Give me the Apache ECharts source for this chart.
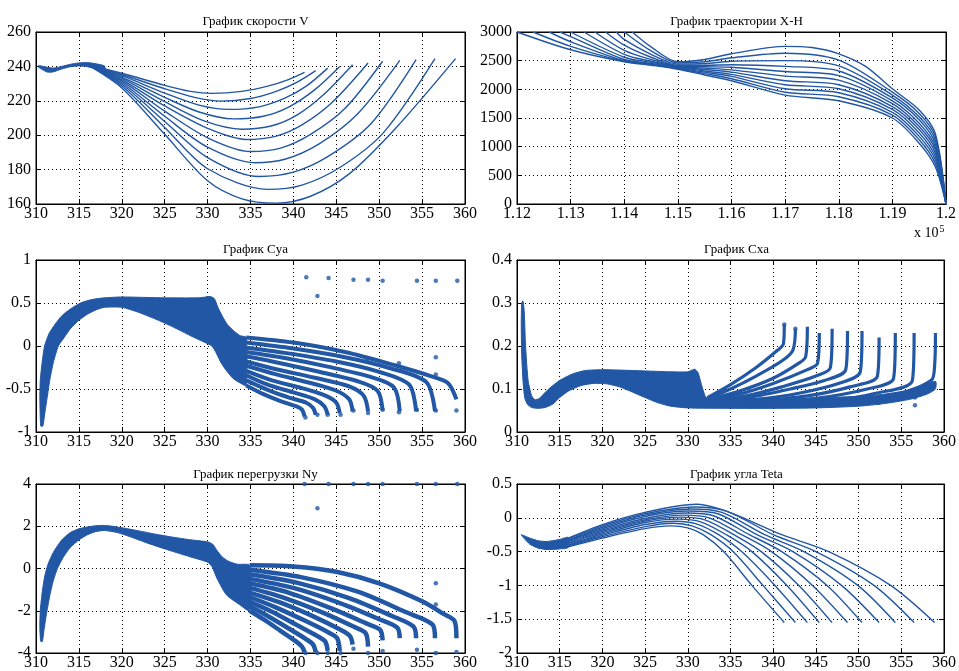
<!DOCTYPE html>
<html><head><meta charset="utf-8">
<script src="https://cdn.jsdelivr.net/npm/echarts@6/dist/echarts.min.js"></script>
<style>html,body{margin:0;padding:0;background:#fff}#c{width:959px;height:671px}</style>
</head><body><div id="c"></div>
<script>
// ---------- titles ----------
const titles = ['График скорости V','График траектории X-H','График Cya','График Cxa','График перегрузки Ny','График угла Teta'];
// ---------- axis ranges [min,max,interval] ----------
const xRanges = [[310,360,5],[112000,120000,1000],[310,360,5],[310,360,5],[310,360,5],[310,360,5]];
const yRanges = [[160,260,20],[0,3000,500],[-1,1,0.5],[0,0.4,0.1],[-4,4,2],[-2,0.5,0.5]];

// ---------- V ----------
const vBand = [[310.3,240.5],[311,239.8],[312,239],[313,240],[314,241.2],[315,242],[316,242.2],[317,241.5],[318,240.2],
  [318,236.5],[317,238.5],[316,239.8],[315,240.3],[314,239.8],[313,238.5],[312,236.8],[311.3,236.7],[310.8,238],[310.3,239.5]];
const vCurves = [
 [[316,241],[320,236],[325,229],[328,225.5],[330.5,224.3],[334,225.5],[337,228.5],[339.5,232.5],[341.3,236.5]],
 [[316,241],[320,235.3],[325,227],[328.5,222],[331.5,219.8],[335,221.3],[338,225.5],[340.5,231],[342.6,237.5]],
 [[316,241],[320,234.6],[325,224.5],[329,217.5],[332.5,215],[336,216.5],[339,221.5],[341.5,228.5],[344,239]],
 [[316,241],[320,233.8],[325,222],[329,213.5],[333,209.5],[336.5,211],[339.5,216.5],[342.5,226.5],[345.4,240]],
 [[316,241],[320,233],[325,219.5],[329.5,208.5],[334,203.5],[337.5,205.5],[340.5,212],[343.5,223.5],[346.9,241]],
 [[316,241],[320,232.2],[325,217],[330,204],[334.5,197.5],[338,199.5],[341,206],[344.5,219],[348.7,242]],
 [[316,241],[320,231.4],[325,214],[330,198.5],[335,190.5],[338.5,192.5],[342,200.5],[346,215.5],[350.4,243]],
 [[316,241],[320,230.5],[325,211],[330,193],[335.5,184],[339,186],[343,195],[347.5,212.5],[352.4,243.5]],
 [[316,241],[320,229.6],[325,208],[330,187],[336,176],[340,178.5],[344,187.5],[349,206.5],[354.3,244]],
 [[316,241],[320,228.6],[325,204.5],[330,180.5],[337,168.5],[341,171],[345.5,181.5],[350.5,201.5],[356.5,244.5]],
 [[316,241],[320,227.5],[325,200.5],[330,173.5],[334,163],[338,160.5],[342,164.5],[346.5,177.5],[352,204.5],[358.9,244.5]]
];

// ---------- X-H ----------
const xhCurves = [
 [[112000,3000],[113000,2690],[114000,2480],[114500,2420],[115000,2350],[115500,2250],[116000,2150],[117000,1900],[118000,1800],[119000,1500],[119500,1060],[119800,650],[120000,0]],
 [[112300,3000],[113000,2750],[114000,2490],[114500,2430],[115000,2360],[115500,2275],[116000,2185],[117000,1950],[118000,1870],[119000,1550],[119500,1120],[119800,710],[120000,0]],
 [[112600,3000],[113000,2830],[114000,2500],[114500,2440],[115000,2370],[115500,2300],[116000,2225],[117000,2010],[118000,1940],[119000,1600],[119500,1180],[119800,770],[120000,0]],
 [[112800,3000],[113000,2920],[114000,2520],[114500,2450],[115000,2380],[115500,2320],[116000,2260],[117000,2080],[118000,2010],[119000,1650],[119500,1240],[119800,830],[120000,0]],
 [[113000,3000],[114000,2560],[114500,2470],[115000,2390],[115500,2345],[116000,2300],[117000,2150],[118000,2080],[119000,1700],[119500,1300],[119800,890],[120000,0]],
 [[113250,3000],[114000,2610],[114500,2490],[115000,2400],[115500,2370],[116000,2340],[117000,2230],[118000,2160],[119000,1750],[119500,1350],[119800,950],[120000,0]],
 [[113450,3000],[114000,2680],[114500,2520],[115000,2410],[115500,2395],[116000,2385],[117000,2310],[118000,2240],[119000,1800],[119500,1410],[119800,1000],[120000,0]],
 [[113650,3000],[114000,2770],[114500,2560],[115000,2420],[115500,2420],[116000,2430],[117000,2400],[118000,2320],[119000,1850],[119500,1470],[119800,1060],[120000,0]],
 [[113850,3000],[114000,2870],[114500,2610],[115000,2440],[115500,2450],[116000,2490],[117000,2500],[118000,2410],[119000,1900],[119500,1520],[119800,1120],[120000,0]],
 [[114000,3000],[114500,2670],[115000,2460],[115500,2480],[116000,2550],[117000,2630],[118000,2510],[119000,1950],[119500,1580],[119800,1180],[120000,0]],
 [[114150,3000],[114500,2740],[115000,2480],[115500,2520],[116000,2620],[117000,2750],[117500,2730],[118000,2620],[118500,2400],[119000,2010],[119500,1640],[119800,1230],[120000,0]]
];

// ---------- Cya ----------
const cyaBand = [[310.55,-0.93],[310.45,-0.6],[310.5,-0.4],[310.7,-0.2],[311.0,0.0],[311.5,0.14],[312.2,0.25],[313,0.35],[314,0.43],[315.2,0.5],[316.5,0.54],[318,0.56],[320,0.57],[325,0.56],[329,0.56],[330.3,0.575],[330.8,0.55],[331.2,0.45],[331.7,0.35],[332.3,0.25],[333,0.18],[333.8,0.12],[334.5,0.1],
  [334.5,-0.46],[333.8,-0.43],[333,-0.38],[332.3,-0.3],[331.6,-0.2],[331,-0.08],[330.5,0.0],[329.5,0.05],[328,0.12],[326,0.22],[324,0.31],[322,0.39],[320,0.45],[318,0.45],[317,0.42],[316,0.37],[315,0.3],[314,0.2],[313.3,0.1],[312.6,0.0],[312.0,-0.2],[311.6,-0.4],[311.3,-0.6],[311.0,-0.8],[310.8,-0.93]];
const cyaFan = [
 [[334.5,-0.46],[336.5,-0.56],[338.5,-0.64],[340.3,-0.7],[341.0,-0.74],[341.3,-0.82]],
 [[334.5,-0.4],[337,-0.51],[339.5,-0.6],[341.5,-0.66],[342.3,-0.72],[342.6,-0.8]],
 [[334.5,-0.34],[337,-0.45],[340,-0.54],[342.5,-0.62],[343.6,-0.7],[344.0,-0.8]],
 [[334.5,-0.29],[337.5,-0.4],[341,-0.49],[343.8,-0.58],[345.0,-0.66],[345.4,-0.78]],
 [[334.5,-0.23],[338,-0.33],[342,-0.43],[345,-0.52],[346.5,-0.62],[346.9,-0.76]],
 [[334.5,-0.18],[338,-0.27],[342.5,-0.37],[346.5,-0.47],[348.2,-0.58],[348.7,-0.76]],
 [[334.5,-0.12],[338.5,-0.2],[343,-0.3],[347.5,-0.41],[349.8,-0.52],[350.4,-0.75]],
 [[334.5,-0.07],[339,-0.14],[344,-0.24],[349,-0.36],[351.7,-0.48],[352.4,-0.76]],
 [[334.5,-0.02],[339,-0.08],[345,-0.18],[350,-0.3],[353.5,-0.45],[354.3,-0.76]],
 [[334.5,0.04],[340,-0.03],[346,-0.13],[351,-0.25],[355.5,-0.42],[356.5,-0.76]],
 [[334.5,0.1],[340,0.04],[346,-0.07],[352,-0.23],[356,-0.35],[358,-0.43],[359,-0.62]]
];
const cyaDots = [[341.5,0.8],[342.8,0.58],[344.1,0.79],[347,0.77],[348.7,0.77],[350.4,0.76],[354.4,0.76],[356.6,0.76],[359.1,0.76],
  [352.3,-0.2],[356.6,-0.13],[356.6,-0.33],[348.6,-0.16],[359,-0.75],[356.6,-0.75],[354.4,-0.74],[352.3,-0.77],[350.4,-0.74],[348.7,-0.78],[347,-0.75],[345.5,-0.8],[344,-0.8],[342.8,-0.8],[341.4,-0.83]];

// ---------- Cxa ----------
const cxaBand = [[310.55,0.3],[310.5,0.25],[310.55,0.18],[310.7,0.12],[310.9,0.08],[311.2,0.065],[311.7,0.057],[312.5,0.055],[313.3,0.057],[314.2,0.065],[315,0.08],[316,0.095],[317.5,0.108],[319,0.113],[320.5,0.112],[322,0.105],[323.5,0.093],[325,0.08],[326.5,0.068],[328,0.06],[330,0.056],[335,0.055],[340,0.055],[345,0.056],[350,0.06],[353,0.066],[356,0.076],[358,0.088],[359,0.1],
  [359,0.118],[356,0.098],[353,0.088],[350,0.083],[346,0.08],[342,0.078],[338,0.078],[334,0.078],[332.3,0.078],[332,0.085],[331.6,0.11],[331.2,0.138],[330.8,0.146],[330,0.14],[328,0.14],[325,0.142],[322,0.144],[320,0.145],[318,0.143],[316.5,0.135],[315,0.12],[314,0.105],[313.2,0.09],[312.6,0.078],[312.1,0.075],[311.7,0.085],[311.3,0.12],[311.0,0.2],[310.85,0.28],[310.7,0.305]];
const cxaFan = [
 [[332.3,0.08],[335,0.11],[338,0.15],[340.5,0.19],[341.2,0.205],[341.3,0.25]],
 [[332.3,0.078],[335,0.1],[338,0.13],[341,0.165],[342.3,0.19],[342.6,0.24]],
 [[332.3,0.076],[336,0.095],[340,0.125],[343,0.16],[343.8,0.175],[344.0,0.245]],
 [[332.3,0.074],[336,0.088],[340,0.113],[344,0.145],[345.2,0.16],[345.4,0.23]],
 [[332.3,0.072],[337,0.085],[341,0.105],[345,0.13],[346.7,0.15],[346.9,0.24]],
 [[332.3,0.07],[337,0.08],[342,0.1],[346,0.12],[348.5,0.145],[348.7,0.235]],
 [[332.3,0.068],[338,0.076],[343,0.09],[348,0.115],[350.2,0.14],[350.4,0.235]],
 [[332.3,0.066],[338,0.072],[344,0.084],[349,0.105],[352.2,0.13],[352.4,0.22]],
 [[332.3,0.064],[339,0.068],[345,0.078],[351,0.1],[354.1,0.125],[354.3,0.23]],
 [[332.3,0.062],[340,0.064],[347,0.073],[352,0.09],[356.3,0.12],[356.5,0.23]],
 [[332.3,0.06],[340,0.06],[348,0.068],[354,0.085],[358.5,0.12],[358.9,0.155],[359,0.23]]
];
const cxaDots = [[352.3,0.068],[356.6,0.062],[356.6,0.08],[341.3,0.25],[342.6,0.24]];

// ---------- Ny ----------
const nyBand = [[310.55,-3.45],[310.45,-2.8],[310.5,-2.0],[310.7,-1.2],[311.0,-0.4],[311.4,0.2],[312,0.75],[313,1.35],[314,1.7],[315,1.88],[316.5,2.0],[317.5,2.04],[318.5,2.02],[320,1.93],[322,1.78],[324,1.62],[326,1.48],[328,1.36],[330,1.26],[330.6,1.15],[331.1,0.85],[331.7,0.55],[332.5,0.33],[333.5,0.2],[334.9,0.15],
  [334.9,-2.0],[333.7,-1.7],[332.2,-1.25],[331.1,-0.47],[330.5,0.1],[330,0.3],[328,0.55],[326,0.8],[325,0.93],[323,1.2],[321,1.5],[319.5,1.7],[318,1.8],[317,1.75],[316,1.6],[315,1.35],[314,1.0],[313.2,0.55],[312.5,0.0],[312,-0.6],[311.6,-1.3],[311.2,-2.2],[310.9,-3.0],[310.75,-3.45]];
const nyFan = [
 [[334.9,-2.0],[336.5,-2.4],[338.5,-2.95],[340.3,-3.45],[341.0,-3.7],[341.3,-3.95]],
 [[334.9,-1.78],[337,-2.25],[339.5,-2.85],[341.5,-3.35],[342.3,-3.6],[342.6,-3.95]],
 [[334.9,-1.57],[337.5,-2.05],[340.5,-2.7],[342.8,-3.2],[343.7,-3.45],[344.0,-3.9]],
 [[334.9,-1.35],[338,-1.85],[341.5,-2.5],[344.2,-3.05],[345.1,-3.3],[345.4,-3.9]],
 [[334.9,-1.14],[338.5,-1.62],[342.5,-2.3],[345.5,-2.9],[346.6,-3.2],[346.9,-3.6]],
 [[334.9,-0.92],[339,-1.4],[343.5,-2.1],[347,-2.75],[348.4,-3.05],[348.7,-3.7]],
 [[334.9,-0.7],[339.5,-1.15],[344.5,-1.9],[348.5,-2.6],[350.1,-2.9],[350.4,-3.4]],
 [[334.9,-0.49],[340,-0.92],[345.5,-1.65],[350,-2.4],[352.1,-2.8],[352.4,-3.3]],
 [[334.9,-0.27],[340.5,-0.68],[346.5,-1.4],[351.5,-2.25],[354.0,-2.75],[354.3,-3.3]],
 [[334.9,-0.06],[341,-0.42],[347.5,-1.1],[353,-2.05],[356.2,-2.65],[356.5,-3.3]],
 [[334.9,0.15],[340,0.1],[345,-0.15],[350,-0.7],[355,-1.55],[357.5,-2.15],[358.8,-2.5],[359,-3.3]]
];
const nyDots = [[341.3,4],[344.1,4],[347,4],[348.7,4],[350.4,4],[354.4,4],[356.6,4],[359.1,4],[342.8,2.85],[356.6,-0.7],[356.6,-1.7],
  [341.4,-4],[342.8,-4],[344,-4],[345.5,-4],[347,-3.8],[348.7,-4],[350.4,-3.9],[354.4,-3.85],[356.6,-4],[359,-3.95]];

// ---------- Teta ----------
const tetaBand = [[310.5,-0.25],[311.5,-0.3],[312.5,-0.34],[313.5,-0.35],[315,-0.32],[316,-0.29],
  [316,-0.44],[315,-0.46],[313.5,-0.47],[312.5,-0.45],[311.5,-0.39],[310.8,-0.3]];
const tetaCurves = [
 [[316,-0.43],[320,-0.3],[325,-0.16],[328,-0.12],[330,-0.15],[331.8,-0.25],[334.2,-0.5],[337.5,-1.0],[341.3,-1.55]],
 [[316,-0.42],[320,-0.28],[325,-0.13],[328.3,-0.08],[330.5,-0.12],[332.7,-0.25],[335.3,-0.5],[338.8,-1.0],[342.6,-1.55]],
 [[316,-0.41],[320,-0.26],[325,-0.1],[328.6,-0.05],[331,-0.09],[333.6,-0.25],[336.3,-0.5],[340.2,-1.0],[344.0,-1.55]],
 [[316,-0.4],[320,-0.24],[325,-0.07],[328.9,-0.02],[331.5,-0.06],[334.5,-0.25],[337.5,-0.5],[341.6,-1.0],[345.4,-1.55]],
 [[316,-0.38],[320,-0.22],[325,-0.05],[329.2,0.01],[332,-0.03],[335.4,-0.25],[338.6,-0.5],[343.0,-1.0],[346.9,-1.55]],
 [[316,-0.37],[320,-0.2],[325,-0.03],[329.5,0.04],[332.5,0.0],[336.3,-0.25],[339.8,-0.5],[344.6,-1.0],[348.7,-1.55]],
 [[316,-0.35],[320,-0.18],[325,-0.01],[329.8,0.07],[333,0.03],[337.2,-0.25],[341.0,-0.5],[346.3,-1.0],[350.4,-1.55]],
 [[316,-0.34],[320,-0.16],[325,0.02],[330.1,0.1],[333.5,0.06],[338.1,-0.25],[342.3,-0.5],[348.0,-1.0],[352.4,-1.55]],
 [[316,-0.33],[320,-0.14],[325,0.04],[330.4,0.13],[334,0.08],[339.0,-0.25],[343.6,-0.5],[349.9,-1.0],[354.3,-1.55]],
 [[316,-0.31],[320,-0.12],[325,0.06],[330.7,0.16],[334.5,0.1],[340.0,-0.25],[345.0,-0.5],[351.8,-1.0],[356.5,-1.55]],
 [[316,-0.3],[320,-0.1],[325,0.08],[331,0.2],[334,0.12],[337,-0.03],[341,-0.25],[346.5,-0.5],[353.75,-1.0],[358.9,-1.55]]
];

// ================= build =================
const BLUE = '#2157a5';
const FONT = 'Liberation Serif';
const GRIDS = [
  {left:36, top:32, width:429, height:172},
  {left:517, top:32, width:429, height:172},
  {left:36, top:260, width:429, height:172},
  {left:517, top:260, width:429, height:172},
  {left:36, top:484, width:429, height:171},
  {left:517, top:484, width:429, height:171}
];
const titleY = [10, 238, 463];

const xAxes = [], yAxes = [];
GRIDS.forEach((g, k) => {
  const [x0, x1, xi] = xRanges[k], [y0, y1, yi] = yRanges[k];
  const line = {show:true, onZero:false, lineStyle:{color:'#000', width:1}};
  const tick = {show:true, inside:true, length:5, lineStyle:{color:'#000'}};
  const split = {show:true, lineStyle:{color:'#000', width:1, type:[1,3]}};
  const lab = {color:'#000', fontFamily:FONT, fontSize:16, showMinLabel:true, showMaxLabel:true};
  xAxes.push({gridIndex:k, type:'value', position:'bottom', min:x0, max:x1, interval:xi, axisLine:line, axisTick:tick,
    axisLabel:Object.assign({margin:2}, lab, {formatter: k === 1 ? (v => String(+(v/1e5).toFixed(2))) : (v => String(v))}),
    splitLine:split});
  xAxes.push({gridIndex:k, type:'value', position:'top', min:x0, max:x1, interval:xi, axisLine:line, axisTick:tick,
    axisLabel:{show:false}, splitLine:{show:false}});
  yAxes.push({gridIndex:k, type:'value', position:'left', min:y0, max:y1, interval:yi, axisLine:line, axisTick:tick,
    axisLabel:Object.assign({margin:5}, lab, {formatter: v => String(+v.toFixed(2))}), splitLine:split});
  yAxes.push({gridIndex:k, type:'value', position:'right', min:y0, max:y1, interval:yi, axisLine:line, axisTick:tick,
    axisLabel:{show:false}, splitLine:{show:false}});
});

const series = [];
function lines(k, curves, width) {
  curves.forEach(c => series.push({type:'line', xAxisIndex:2*k, yAxisIndex:2*k, data:c, showSymbol:false, symbol:'none',
    smooth:0.3, lineStyle:{color:BLUE, width:width}, silent:true, clip:true}));
}
function band(k, pts) {
  series.push({type:'custom', xAxisIndex:2*k, yAxisIndex:2*k, data:[pts[0]], silent:true, clip:true,
    renderItem:(params, api) => ({type:'polygon', shape:{points:pts.map(p => api.coord(p)), smooth:0.2},
      style:{fill:BLUE, stroke:BLUE, lineWidth:1}})});
}
function dots(k, pts) {
  series.push({type:'scatter', xAxisIndex:2*k, yAxisIndex:2*k, data:pts, symbol:'circle', symbolSize:4.5,
    itemStyle:{color:BLUE}, silent:true});
}
band(0, vBand); lines(0, vCurves, 1.4);
lines(1, xhCurves, 1.4);
band(2, cyaBand); lines(2, cyaFan, 4); dots(2, cyaDots);
band(3, cxaBand); lines(3, cxaFan, 3.2); dots(3, cxaDots);
band(4, nyBand); lines(4, nyFan, 4.5); dots(4, nyDots);
band(5, tetaBand); lines(5, tetaCurves, 1.4);

const titleOpts = titles.map((t, k) => ({text:t, left:GRIDS[k].left + GRIDS[k].width/2, top:titleY[Math.floor(k/2)],
  textAlign:'center', textStyle:{fontFamily:FONT, fontSize:13, fontWeight:'normal', color:'#000'}}));

const chart = echarts.init(document.getElementById('c'), null, {renderer:'canvas'});
chart.setOption({
  animation:false,
  backgroundColor:'#fff',
  title:titleOpts,
  grid:GRIDS.map(g => Object.assign({show:true, borderColor:'#000', borderWidth:1, backgroundColor:'#fff', containLabel:false}, g)),
  xAxis:xAxes, yAxis:yAxes, series:series,
  graphic:[{type:'text', left:914, top:224, style:{text:'{a|x 10}{b|5}', fill:'#000',
    rich:{a:{fontFamily:FONT, fontSize:14, fill:'#000'}, b:{fontFamily:FONT, fontSize:10, fill:'#000', verticalAlign:'top', padding:[0,0,9,1]}}}}]
});
</script></body></html>
